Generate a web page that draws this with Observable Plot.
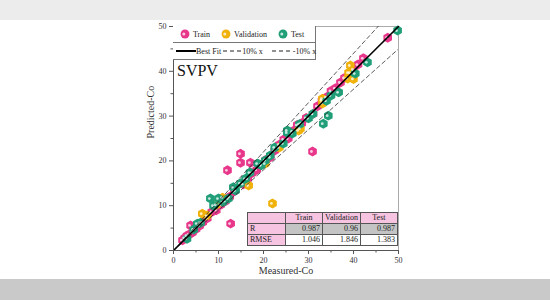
<!DOCTYPE html>
<html><head><meta charset="utf-8">
<script src="https://cdn.jsdelivr.net/npm/d3@7"></script>
<script src="https://cdn.jsdelivr.net/npm/@observablehq/plot@0.6"></script>
<style>
body{margin:0;background:#fff;}
#wrap{position:relative;width:550px;height:300px;background:#fff;overflow:hidden;font-family:"Liberation Serif",serif;}
.band{position:absolute;left:0;width:550px;background:#c9c9c9;}
#legend{position:absolute;left:173px;top:26px;width:142px;height:33px;border:1px solid #777;border-left:none;border-top:none;background:#fff;font-size:8px;color:#222;white-space:nowrap;}
#legend .row{position:absolute;left:0;width:142px;height:16px;display:flex;align-items:center;white-space:nowrap;}
#legend .r1{top:0;border-bottom:1px solid #777;}
#legend .r2{top:17px;}
#stats{position:absolute;left:247px;top:212px;border-collapse:collapse;font-size:8px;color:#222;}
#stats td{border:1px solid #555;height:10px;padding:0 2px;line-height:10px;}
#stats td.h{background:#f6c3e0;text-align:center;}
#stats td.n{text-align:right;}
#stats tr.g td.n{background:#c4c4c4;}
#svpv{position:absolute;left:177px;top:62px;font-size:16px;color:#111;}
</style></head><body><div id="wrap"></div>
<script>
// Data (Measured, Predicted)
const trainPts = [[2.0,2.3],[2.5,2.8],[3.0,3.3],[3.5,3.6],[3.8,5.6],[4.2,4.0],[5.0,4.8],[5.8,5.5],[6.5,6.3],[7.5,7.2],[8.5,8.6],[9.5,9.0],[10.5,10.2],[11.5,11.0],[12.7,6.0],[12.0,17.9],[12.5,12.0],[13.5,13.2],[14.9,21.6],[14.9,19.6],[17.1,19.6],[15.5,14.8],[16.5,16.0],[17.5,17.3],[18.5,18.0],[19.5,19.2],[20.5,20.2],[21.5,20.8],[22.5,22.3],[23.5,23.6],[24.5,24.8],[25.5,25.0],[26.5,26.6],[27.5,28.0],[28.5,28.4],[29.5,29.6],[30.9,22.1],[31.0,30.5],[32.0,32.2],[33.0,33.5],[34.0,34.2],[35.0,35.6],[36.0,36.2],[37.1,37.5],[38.0,38.5],[39.3,39.7],[40.0,40.4],[41.0,41.5],[42.2,42.9],[47.6,47.5]];
const validPts = [[6.4,8.2],[7.5,7.8],[9.5,10.2],[10.9,11.8],[16.7,14.5],[20.4,19.4],[22.0,10.5],[23.5,23.0],[27.8,26.8],[28.2,27.2],[33.1,33.9],[33.1,32.8],[38.7,38.4],[38.9,39.7],[39.3,41.3],[40.0,38.3]];
const testPts = [[3.0,2.6],[4.5,4.7],[5.3,6.0],[6.0,6.2],[8.2,11.6],[8.9,10.0],[10.0,11.6],[11.0,10.8],[12.2,11.6],[13.3,14.1],[13.8,13.4],[14.9,15.0],[16.0,16.0],[17.0,17.4],[18.7,19.4],[19.5,19.0],[20.4,20.1],[21.5,21.2],[22.5,23.0],[24.4,23.9],[25.3,26.3],[25.3,26.8],[26.4,26.1],[28.0,28.2],[30.0,29.5],[31.0,30.5],[33.3,28.3],[34.4,30.1],[34.0,33.4],[35.0,34.6],[36.7,35.3],[40.4,39.5],[43.1,42.0],[49.8,49.1]];
const seriesNames = ["Train","Validation","Test"];
const seriesColors = ["#e8378b","#f0b10a","#1f9e78"];
const fitLines = [{name:"Best Fit",k:1},{name:"10% x",k:1.1},{name:"-10% x",k:0.9}];
const xTicks = [0,10,20,30,40,50];
const statRows = ["R","RMSE"];
const statR = ["0.987","0.96","0.987"];
const statRMSE = ["1.046","1.846","1.383"];
const panelLabel = "SVPV";

const seriesPts = [trainPts, validPts, testPts];
const pts = seriesPts.flatMap((arr,i)=>arr.map(([x,y])=>({x,y,s:seriesNames[i]})));
const lineData = fitLines.flatMap(f=>[0,50].map(x=>({x,y:f.k*x,name:f.name})));

const font = {fontFamily:"Liberation Serif, serif"};
const chart = Plot.plot({
  width:550, height:300,
  marginLeft:173, marginRight:152, marginTop:26, marginBottom:50,
  style:{...font, background:"transparent", color:"#333", fontSize:"8px"},
  x:{domain:[0,50]}, y:{domain:[0,50]},
  color:{domain:seriesNames, range:seriesColors},
  marks:[
    Plot.frame({stroke:"#aaa"}),
    Plot.dot(pts,{x:"x",y:"y",fill:"s",symbol:"hexagon",r:4.3}),
    Plot.dot(pts,{x:"x",y:"y",fill:"#fff",r:1.4,dx:-1.1,fillOpacity:0.75}),
    Plot.line(lineData.filter(d=>d.name!=="Best Fit"),{x:"x",y:"y",z:"name",stroke:"#333",strokeWidth:0.8,strokeDasharray:"4,3",clip:true}),
    Plot.line(lineData.filter(d=>d.name==="Best Fit"),{x:"x",y:"y",stroke:"#000",strokeWidth:1.6}),
    Plot.ruleX([0],{stroke:"#555"}),
    Plot.ruleY([0],{stroke:"#555"}),
    Plot.axisX({ticks:d3.range(5,50,10),tickSize:2.5,tickFormat:()=>"",stroke:"#555",label:null}),
    Plot.axisX({ticks:xTicks,tickSize:4,tickPadding:3,stroke:"#555",fill:"#333",label:null}),
    Plot.axisY({ticks:d3.range(5,50,10),tickSize:2.5,tickFormat:()=>"",stroke:"#555",label:null}),
    Plot.axisY({ticks:xTicks,tickSize:4,tickPadding:3,stroke:"#555",fill:"#333",label:null}),
    Plot.text(["Measured-Co"],{frameAnchor:"bottom",dy:23,fontSize:10,fill:"#333"}),
    Plot.text(["Predicted-Co"],{frameAnchor:"left",dx:-23,rotate:-90,fontSize:10,fill:"#333"})
  ]
});
const wrap = document.getElementById("wrap");
wrap.innerHTML = '<div class="band" style="top:0;height:20px;background:#ececec"></div><div class="band" style="top:279px;height:21px"></div>';
chart.style.position="absolute"; chart.style.left="0"; chart.style.top="0";
wrap.appendChild(chart);

// Legend
const hex = c => `<svg width="10" height="10" viewBox="-5 -5 10 10" style="margin:0 3px 0 7px;flex:none"><path d="${d3.symbol(d3.symbolHexagon ? d3.symbolHexagon : d3.symbolCircle, 62)()}" fill="${c}"/><circle cx="-1.2" cy="0" r="1.5" fill="#fff" fill-opacity="0.75"/></svg>`;
const lg = document.createElement("div"); lg.id="legend";
lg.innerHTML = `<div class="row r1">${seriesNames.map((n,i)=>hex(seriesColors[i])+`<span style="margin-right:4px">${n}</span>`).join("")}</div>
<div class="row r2"><svg width="20" height="4" style="margin-left:3px;flex:none"><line x1="0" y1="2" x2="20" y2="2" stroke="#000" stroke-width="2"/></svg><span>${fitLines[0].name}</span>
<svg width="20" height="4" style="flex:none;margin-left:1px"><line x1="1" y1="2" x2="20" y2="2" stroke="#222" stroke-dasharray="4,3"/></svg><span>${fitLines[1].name}</span>
<svg width="22" height="4" style="margin-left:8px;flex:none"><line x1="1" y1="2" x2="20" y2="2" stroke="#222" stroke-dasharray="4,3"/></svg><span>${fitLines[2].name}</span></div>`;
wrap.appendChild(lg);

const sv = document.createElement("div"); sv.id="svpv"; sv.textContent=panelLabel; wrap.appendChild(sv);

// Stats table
const tb = document.createElement("table"); tb.id="stats";
tb.innerHTML = `<tr><td class="h" style="width:33px"></td>${seriesNames.map(n=>`<td class="h" style="width:32px">${n}</td>`).join("")}</tr>
<tr class="g"><td class="h" style="text-align:left">${statRows[0]}</td>${statR.map(v=>`<td class="n">${v}</td>`).join("")}</tr>
<tr><td class="h" style="text-align:left">${statRows[1]}</td>${statRMSE.map(v=>`<td class="n">${v}</td>`).join("")}</tr>`;
wrap.appendChild(tb);
</script></body></html>
